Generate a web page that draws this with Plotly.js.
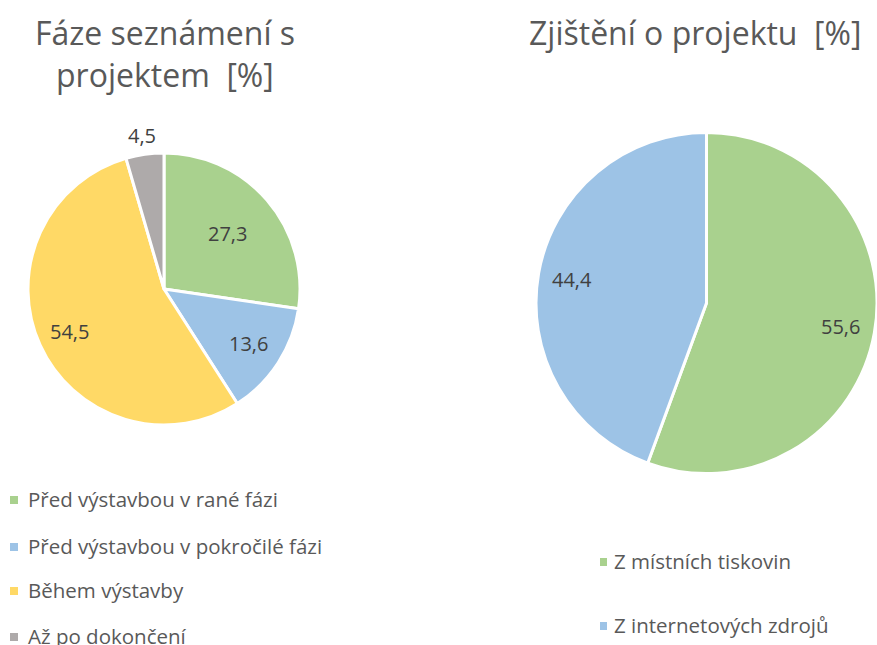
<!DOCTYPE html>
<html><head><meta charset="utf-8">
<script src="https://cdn.plot.ly/plotly-3.0.1.min.js"></script>
<style>html,body{margin:0;padding:0;background:#fff}#chart{width:877px;height:645px}</style>
</head><body><div id="chart"></div>
<script>
const phaseLabels = ["Před výstavbou v rané fázi", "Před výstavbou v pokročilé fázi", "Během výstavby", "Až po dokončení"];
const phaseValues = [27.3, 13.6, 54.5, 4.5];
const phaseColors = ["#A9D18E", "#9DC3E6", "#FFD966", "#AEAAAA"];

const sourceLabels = ["Z místních tiskovin", "Z internetových zdrojů"];
const sourceValues = [55.6, 44.4];
const sourceColors = ["#A9D18E", "#9DC3E6"];

const titleLeft = ["Fáze seznámení s", "projektem  [%]"];
const titleRight = "Zjištění o projektu  [%]";

// label placement style (fraction of radius for each slice's value label)
const phaseLabelRadius = [0.62, 0.74, 0.76, 1.14];
const sourceLabelRadius = [0.79, 0.8];

const W = 877, H = 645;
const FONT = "Open Sans";
const px = x => x / W;
const py = y => 1 - y / H;

const leftPie = {x0: 28, x1: 300, y0: 153, y1: 425};
const rightPie = {x0: 536, x1: 877, y0: 132, y1: 474};

function pieTrace(values, labels, colors, box) {
  return {
    type: "pie", values: values, labels: labels, sort: false, direction: "clockwise", rotation: 0,
    marker: {colors: colors, line: {color: "#ffffff", width: 3}},
    textinfo: "none",
    domain: {x: [px(box.x0), Math.min(1, px(box.x1))], y: [py(box.y1), py(box.y0)]},
    showlegend: false, hoverinfo: "label+value"
  };
}
const traces = [
  pieTrace(phaseValues, phaseLabels, phaseColors, leftPie),
  pieTrace(sourceValues, sourceLabels, sourceColors, rightPie)
];

const annotations = [];
const shapes = [];

function valueLabels(values, box, radii) {
  const w = box.x1 - box.x0, h = box.y1 - box.y0;
  const R = Math.min(w, h) / 2;
  const cx = (box.x0 + box.x1) / 2, cy = (box.y0 + box.y1) / 2;
  const total = values.reduce((a, b) => a + b, 0);
  let cum = 0;
  values.forEach((v, i) => {
    const th = (cum + v / 2) / total * 2 * Math.PI;
    cum += v;
    const r = radii[i] * R;
    annotations.push({
      text: v.toFixed(1).replace(".", ","), xref: "paper", yref: "paper",
      x: px(cx + r * Math.sin(th)), y: py(cy - r * Math.cos(th)),
      xanchor: "center", yanchor: "middle", showarrow: false,
      font: {family: FONT, size: 20, color: "#404040"}
    });
  });
}
valueLabels(phaseValues, leftPie, phaseLabelRadius);
valueLabels(sourceValues, {x0: rightPie.x0, x1: rightPie.x0 + 342, y0: rightPie.y0, y1: rightPie.y1}, sourceLabelRadius);

titleLeft.forEach((t, i) => annotations.push({
  text: t, xref: "paper", yref: "paper", x: px(165), y: py(32 + i * 42), xanchor: "center", yanchor: "middle",
  showarrow: false, font: {family: FONT, size: 32, color: "#595959"}
}));
annotations.push({
  text: titleRight, xref: "paper", yref: "paper", x: px(695), y: py(32), xanchor: "center", yanchor: "middle",
  showarrow: false, font: {family: FONT, size: 32, color: "#595959"}
});

const leftLegY = [499, 546, 590, 636];
phaseLabels.forEach((l, i) => {
  annotations.push({text: l, xref: "paper", yref: "paper", x: px(26), y: py(leftLegY[i]), xanchor: "left", yanchor: "middle",
    showarrow: false, font: {family: FONT, size: 20.5, color: "#595959"}});
  shapes.push({type: "rect", xref: "paper", yref: "paper", x0: px(10), x1: px(18), y0: py(leftLegY[i] + 5), y1: py(leftLegY[i] - 3),
    fillcolor: phaseColors[i], line: {width: 0}});
});
const rightLegY = [561, 625];
sourceLabels.forEach((l, i) => {
  annotations.push({text: l, xref: "paper", yref: "paper", x: px(612), y: py(rightLegY[i]), xanchor: "left", yanchor: "middle",
    showarrow: false, font: {family: FONT, size: 20.5, color: "#595959"}});
  shapes.push({type: "rect", xref: "paper", yref: "paper", x0: px(600), x1: px(607), y0: py(rightLegY[i] + 5), y1: py(rightLegY[i] - 3),
    fillcolor: sourceColors[i], line: {width: 0}});
});

const layout = {
  width: W, height: H, margin: {l: 0, r: 0, t: 0, b: 0},
  paper_bgcolor: "#ffffff", separators: ", ",
  font: {family: FONT}, showlegend: false,
  annotations: annotations, shapes: shapes
};
Plotly.newPlot("chart", traces, layout, {displayModeBar: false, staticPlot: true});
</script></body></html>
